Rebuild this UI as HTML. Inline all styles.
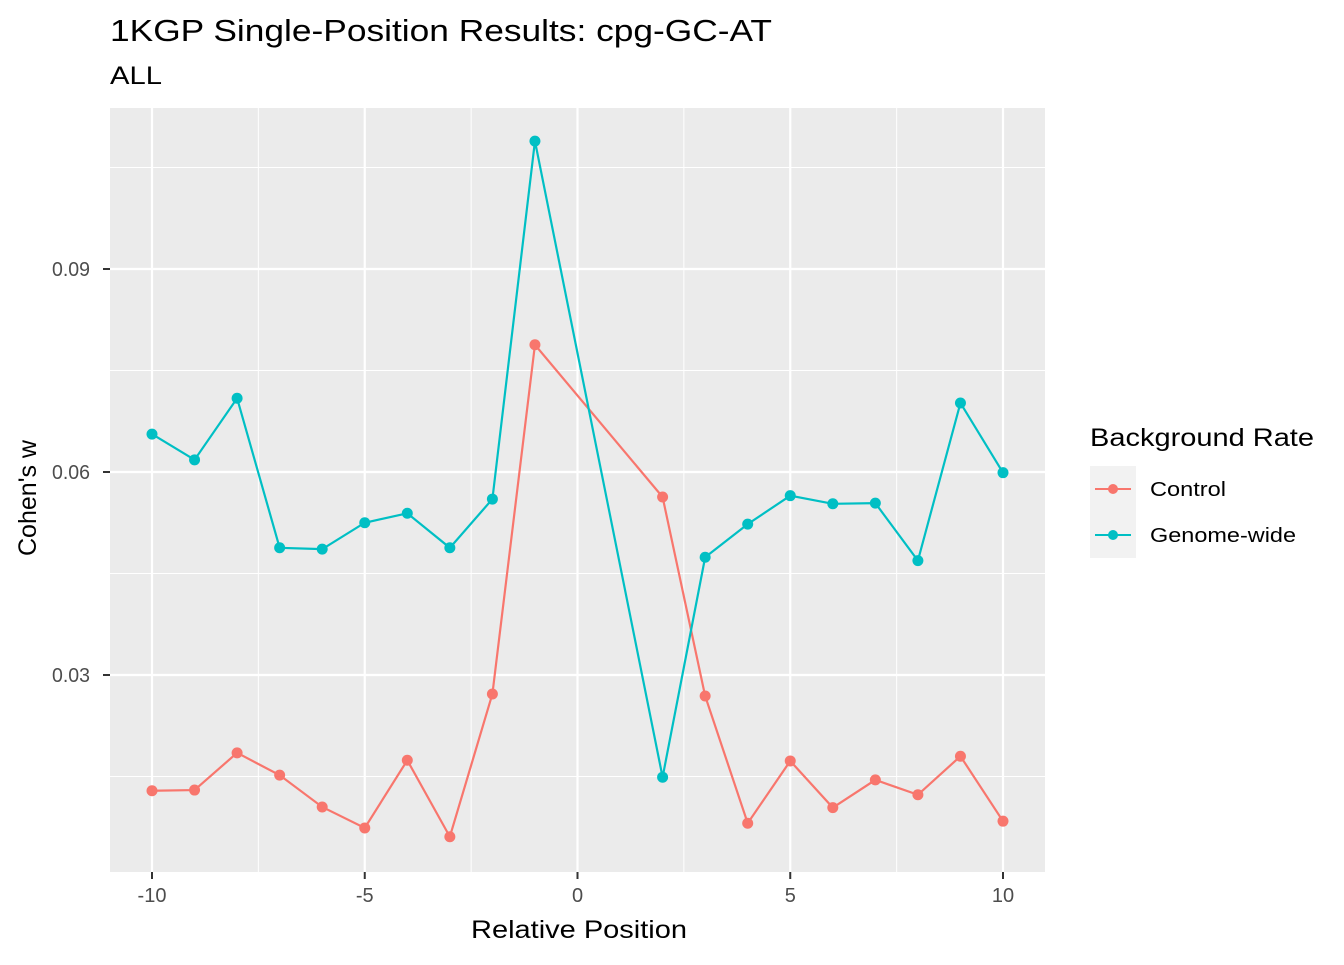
<!DOCTYPE html>
<html><head><meta charset="utf-8"><style>
body{margin:0;background:#fff;font-family:"Liberation Sans",sans-serif;}
svg text{font-family:"Liberation Sans",sans-serif;}
</style></head><body>
<svg id="chart" width="1344" height="960">
<text x="110" y="41" font-size="31" fill="#000" textLength="662" lengthAdjust="spacingAndGlyphs">1KGP Single-Position Results: cpg-GC-AT</text>
<text x="110" y="84" font-size="25" fill="#000" textLength="52" lengthAdjust="spacingAndGlyphs">ALL</text>
<rect x="110" y="108" width="935" height="764" fill="#EBEBEB"/>
<g id="grid"></g><g id="series"></g><g id="axes"></g>
<text x="471" y="938" font-size="25" textLength="216" lengthAdjust="spacingAndGlyphs">Relative Position</text>
<text transform="translate(36,556) rotate(-90)" font-size="25" textLength="116" lengthAdjust="spacingAndGlyphs">Cohen's w</text>
<g>
<text x="1090" y="446" font-size="25" textLength="224" lengthAdjust="spacingAndGlyphs">Background Rate</text>
<rect x="1090" y="466" width="46" height="46" fill="#F2F2F2"/>
<rect x="1090" y="512" width="46" height="46" fill="#F2F2F2"/>
<line x1="1095" y1="489" x2="1131" y2="489" stroke="#F8766D" stroke-width="2"/><circle cx="1113" cy="489" r="5" fill="#F8766D"/>
<line x1="1095" y1="535" x2="1131" y2="535" stroke="#00BFC4" stroke-width="2"/><circle cx="1113" cy="535" r="5" fill="#00BFC4"/>
<text x="1150" y="496" font-size="20" textLength="76" lengthAdjust="spacingAndGlyphs">Control</text>
<text x="1150" y="542" font-size="20" textLength="146" lengthAdjust="spacingAndGlyphs">Genome-wide</text>
</g>
</svg>
<script>
const positions=[-10,-9,-8,-7,-6,-5,-4,-3,-2,-1,2,3,4,5,6,7,8,9,10];
const controlValues=[0.0129,0.0130,0.0185,0.0152,0.0105,0.0074,0.0174,0.0061,0.0272,0.0788,0.0563,0.0269,0.0081,0.0173,0.0104,0.0145,0.0123,0.0180,0.0084];
const genomeValues=[0.0656,0.0618,0.0709,0.0488,0.0486,0.0525,0.0539,0.0488,0.0560,0.1089,0.0149,0.0474,0.0523,0.0565,0.0553,0.0554,0.0469,0.0702,0.0599];
const xTicks=[-10,-5,0,5,10];
const xMinor=[-7.5,-2.5,2.5,7.5];
const yTicks=[0.03,0.06,0.09];
const yTickLabels=["0.03","0.06","0.09"];
const yMinor=[0.015,0.045,0.075,0.105];
const NS="http://www.w3.org/2000/svg";
const X=v=>577.5+v*42.55;
const Y=v=>472-(v-0.06)*6767;
function mk(parent,tag,attrs){const e=document.createElementNS(NS,tag);for(const k in attrs)e.setAttribute(k,attrs[k]);document.getElementById(parent).appendChild(e);return e;}
xMinor.forEach(v=>{const l=mk('grid','line',{x1:X(v),x2:X(v),y1:108,y2:872,stroke:'#fff','stroke-width':1});

});
yMinor.forEach(v=>{const l=mk('grid','line',{x1:110,x2:1045,y1:Y(v),y2:Y(v),stroke:'#fff','stroke-width':1});

});
xTicks.forEach(v=>{const l=mk('grid','line',{x1:X(v),x2:X(v),y1:108,y2:872,stroke:'#fff','stroke-width':2.2});


const t=mk('axes','line',{x1:X(v),x2:X(v),y1:872,y2:879,stroke:'#333','stroke-width':2});


const tx=mk('axes','text',{x:X(v),y:902,'font-size':20,'text-anchor':'middle',fill:'#4D4D4D'});tx.textContent=v;

});
yTicks.forEach((v,i)=>{const l=mk('grid','line',{x1:110,x2:1045,y1:Y(v),y2:Y(v),stroke:'#fff','stroke-width':2.2});


const t=mk('axes','line',{x1:103,x2:110,y1:Y(v),y2:Y(v),stroke:'#333','stroke-width':2});


const tx=mk('axes','text',{x:52,y:Y(v)+7,'font-size':20,fill:'#4D4D4D',textLength:38,lengthAdjust:'spacingAndGlyphs'});tx.textContent=yTickLabels[i];

});
function series(vals,color,name){
const p=mk('series','polyline',{points:positions.map((x,i)=>X(x)+','+Y(vals[i])).join(' '),fill:'none',stroke:color,'stroke-width':2.2});


positions.forEach((x,i)=>{const c=mk('series','circle',{cx:X(x),cy:Y(vals[i]),r:5.5,fill:color});

});}
series(controlValues,'#F8766D','control');
series(genomeValues,'#00BFC4','genome-wide');
</script>
</body></html>
